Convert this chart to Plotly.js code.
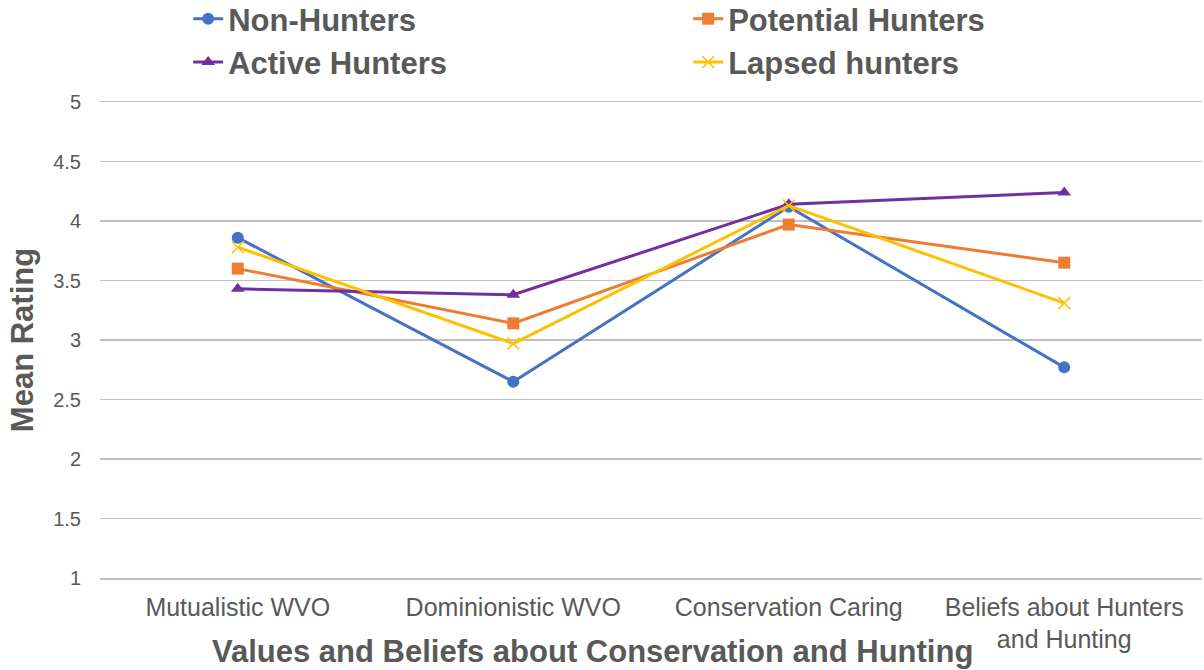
<!DOCTYPE html>
<html>
<head>
<meta charset="utf-8">
<script src="https://cdn.plot.ly/plotly-3.0.1.min.js"></script>
<style>html,body{margin:0;padding:0;background:#fff;}#chart{width:1204px;height:670px;}</style>
</head>
<body>
<div id="chart"></div>
<script>
const categories = ["Mutualistic WVO", "Dominionistic WVO", "Conservation Caring", "Beliefs about Hunters<br>and Hunting"];
const nonHunters = [3.86, 2.65, 4.12, 2.77];
const potentialHunters = [3.60, 3.14, 3.97, 3.65];
const activeHunters = [3.43, 3.38, 4.14, 4.24];
const lapsedHunters = [3.78, 2.97, 4.13, 3.31];
const seriesNames = ["Non-Hunters", "Potential Hunters", "Active Hunters", "Lapsed hunters"];
const yTicks = [1, 1.5, 2, 2.5, 3, 3.5, 4, 4.5, 5];

const colors = ["#4472C4", "#ED7D31", "#7030A0", "#FFC000"];
const symbols = ["circle", "square", "triangle-up", "x-thin-open"];
const allSeries = [nonHunters, potentialHunters, activeHunters, lapsedHunters];

const traces = allSeries.map((vals, i) => ({
  type: "scatter",
  mode: "lines+markers",
  name: seriesNames[i],
  x: categories,
  y: vals,
  line: {color: colors[i], width: 3},
  marker: {symbol: symbols[i], size: 12, color: colors[i], line: {color: colors[i], width: i === 3 ? 1.5 : 0}}
}));

const layout = {
  width: 1204, height: 670,
  margin: {l: 100, r: 2, t: 102, b: 92, autoexpand: false},
  paper_bgcolor: "#ffffff", plot_bgcolor: "#ffffff",
  font: {family: "Liberation Sans, Arial, sans-serif", color: "#595959"},
  showlegend: true,
  legend: {
    orientation: "h", x: 0.08, xanchor: "left", y: 1.231, yanchor: "top",
    entrywidth: 455, entrywidthmode: "pixels",
    font: {size: 31, color: "#595959", family: "Liberation Sans, Arial, sans-serif", weight: "bold"},
    itemwidth: 30, bgcolor: "rgba(0,0,0,0)", tracegroupgap: 0
  },
  xaxis: {
    type: "category", range: [-0.5, 3.5],
    showgrid: false, zeroline: false,
    showline: true, mirror: true, linecolor: "#C0C0C0", linewidth: 1.5,
    ticks: "outside", ticklen: 6, tickcolor: "rgba(0,0,0,0)",
    tickfont: {size: 25, color: "#595959"}
  },
  yaxis: {
    range: [1, 5], tickvals: yTicks, ticktext: yTicks.map(String),
    showgrid: true, gridcolor: "#C0C0C0", gridwidth: 1.5, zeroline: false, showline: false,
    ticks: "outside", ticklen: 14, tickcolor: "rgba(0,0,0,0)",
    tickfont: {size: 20, color: "#595959"},
    title: {text: "Mean Rating", font: {size: 31, color: "#595959", weight: "bold"}, standoff: 10}
  },
  annotations: [{
    text: "Values and Beliefs about Conservation and Hunting",
    xref: "paper", yref: "paper", x: 0.4465, y: -0.155, xanchor: "center", yanchor: "middle",
    showarrow: false, font: {size: 31, color: "#595959", weight: "bold"}
  }]
};

Plotly.newPlot("chart", traces, layout, {displayModeBar: false, staticPlot: true});
</script>
</body>
</html>
